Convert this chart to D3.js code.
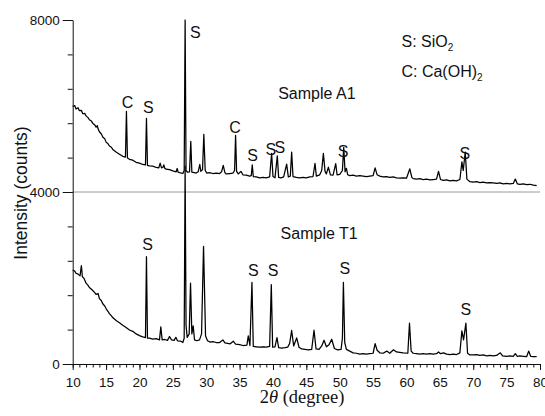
<!DOCTYPE html>
<html>
<head>
<meta charset="utf-8">
<script src="https://cdn.jsdelivr.net/npm/d3@7"></script>
<style>
  html, body { margin: 0; padding: 0; background: #fff; }
  svg { display: block; }
</style>
</head>
<body>
<svg id="chart" width="545" height="416"></svg>
<script>
// ---------- DATA (2θ in degrees, intensity in counts) ----------
const xTicks = [10, 15, 20, 25, 30, 35, 40, 45, 50, 55, 60, 65, 70, 75, 80];
const yTicks = [0, 4000, 8000];
const separatorLevel = 4000;

const sampleA1 = [
  [10,5990],[10.3,6010],[10.5,5930],[10.8,5960],[11,5890],[11.3,5900],[11.5,5820],[11.8,5830],
  [12,5770],[12.3,5730],[12.5,5680],[12.8,5650],[13,5600],[13.3,5560],[13.5,5510],[13.7,5540],[13.8,5470],
  [14,5400],[14.3,5350],[14.5,5280],[14.8,5240],[15,5160],[15.3,5120],[15.5,5070],[15.8,5040],
  [16,4990],[16.5,4930],[17,4880],[17.5,4830],[17.9,4810],[18.05,5877],[18.2,4790],[18.5,4760],
  [19,4740],[19.5,4690],[20,4670],[20.5,4640],[20.9,4630],[21.05,5713],[21.2,4620],[21.5,4610],
  [22,4600],[22.5,4570],[22.9,4560],[23.1,4670],[23.3,4560],[23.5,4570],[23.65,4630],[23.8,4550],
  [24,4530],[24.5,4520],[25,4490],[25.5,4470],[25.65,4547],[25.8,4460],[26,4450],[26.5,4430],
  [26.7,4500],[26.84,8000],[26.98,4500],[27.2,4460],[27.5,4470],[27.69,5177],[27.85,4460],
  [28.2,4450],[28.5,4440],[28.8,4470],[29.04,4640],[29.2,4480],[29.45,4520],[29.64,5340],[29.85,4500],
  [30.1,4440],[30.5,4450],[31,4430],[31.5,4440],[32,4430],[32.3,4470],[32.55,4617],[32.8,4450],
  [33,4420],[33.5,4430],[34,4440],[34.25,4500],[34.4,5317],[34.55,4480],[34.8,4420],[35.2,4480],
  [35.5,4400],[36,4390],[36.5,4370],[36.75,4380],[36.9,4630],[37.05,4360],[37.5,4350],[38,4330],
  [38.5,4340],[39,4330],[39.5,4350],[39.8,4900],[40,4360],[40.3,4330],[40.65,4840],[40.85,4340],
  [41.2,4330],[41.6,4350],[42.05,4650],[42.3,4350],[42.6,4370],[42.8,4930],[43,4360],[43.5,4340],
  [44,4330],[44.5,4340],[45,4330],[45.5,4350],[46,4360],[46.3,4664],[46.5,4370],[47,4400],
  [47.3,4500],[47.55,4897],[47.8,4480],[48,4420],[48.3,4580],[48.6,4400],[49,4390],[49.4,4660],
  [49.6,4400],[50,4410],[50.4,4500],[50.6,5037],[50.8,4470],[51,4550],[51.2,4400],[51.5,4380],
  [52,4390],[52.5,4370],[53,4380],[53.5,4370],[54,4360],[54.5,4370],[55,4380],[55.3,4560],
  [55.6,4400],[56,4370],[56.5,4350],[57,4360],[57.5,4340],[58,4350],[58.5,4330],[59,4320],
  [59.5,4330],[60,4320],[60.5,4540],[60.8,4340],[61,4310],[61.5,4300],[62,4310],[62.5,4290],
  [63,4300],[63.5,4280],[64,4290],[64.5,4300],[64.8,4480],[65.1,4290],[65.5,4270],[66,4280],
  [66.5,4260],[67,4270],[67.5,4260],[68,4290],[68.3,4700],[68.5,4500],[68.8,4930],[69.05,4300],
  [69.5,4240],[70,4230],[70.5,4240],[71,4220],[71.5,4230],[72,4210],[72.5,4220],[73,4210],
  [73.5,4200],[74,4210],[74.5,4190],[75,4200],[75.5,4190],[76,4200],[76.3,4300],[76.6,4190],
  [77,4180],[77.5,4190],[78,4170],[78.5,4180],[79,4160],[79.5,4150]
];

const sampleT1 = [
  [10,2185],[10.3,2160],[10.5,2110],[10.8,2090],[11.1,2050],[11.3,2290],[11.45,2030],[11.7,1990],
  [12,1880],[12.3,1830],[12.5,1780],[12.8,1740],[13,1710],[13.3,1660],[13.5,1620],[13.8,1640],
  [14,1520],[14.3,1470],[14.5,1400],[14.8,1350],[15,1290],[15.3,1220],[15.5,1170],[15.8,1120],
  [16,1080],[16.5,1010],[17,960],[17.5,900],[18,850],[18.5,790],[19,760],[19.5,700],[20,660],
  [20.5,630],[20.9,615],[21.05,2495],[21.2,600],[21.5,600],[22,580],[22.5,590],[23,560],[23.2,863],
  [23.4,560],[23.8,570],[24.2,550],[24.5,640],[24.8,560],[25.2,550],[25.45,620],[25.7,540],
  [26.2,530],[26.5,500],[26.7,600],[26.84,4600],[26.98,900],[27.15,620],[27.45,700],[27.65,1882],
  [27.85,700],[28.05,886],[28.25,560],[28.6,540],[29,560],[29.3,700],[29.6,2736],[29.9,650],
  [30.2,540],[30.6,510],[31,520],[31.5,500],[32,500],[32.5,560],[32.8,490],[33.2,480],[33.6,470],
  [34.05,530],[34.4,460],[35,450],[35.5,430],[36.1,440],[36.3,653],[36.55,430],[36.85,1900],
  [37.05,410],[37.5,400],[38,390],[38.5,400],[39,390],[39.5,410],[39.75,1846],[39.95,390],
  [40.3,400],[40.6,614],[40.85,380],[41.3,370],[41.8,380],[42.2,390],[42.5,480],[42.8,780],
  [43.1,420],[43.55,606],[43.9,390],[44.3,350],[44.8,340],[45.3,330],[45.8,340],[46.15,785],
  [46.45,350],[46.9,340],[47.3,420],[47.65,552],[48,400],[48.4,450],[48.8,576],[49.2,360],
  [49.7,330],[50.2,340],[50.4,600],[50.55,1896],[50.75,500],[51,340],[51.5,300],[52,260],
  [52.5,250],[53,230],[53.5,240],[54,230],[54.5,240],[55,250],[55.3,474],[55.6,320],[56,260],
  [56.5,250],[57.05,300],[57.5,250],[58.05,330],[58.5,280],[59,270],[59.5,260],[60.2,250],
  [60.45,949],[60.7,300],[61,250],[61.5,240],[62,230],[62.5,240],[63,230],[63.5,240],[64,230],
  [64.5,240],[64.8,280],[65.1,240],[65.55,260],[66,230],[66.5,220],[67,230],[67.5,220],[68,260],
  [68.3,770],[68.55,560],[68.9,949],[69.15,250],[69.5,210],[70,210],[70.5,220],[71,200],
  [71.5,210],[72,190],[72.5,200],[73,190],[73.5,200],[74.05,260],[74.4,190],[75,180],[75.5,190],
  [76,180],[76.3,240],[76.6,180],[77,190],[77.5,180],[78,170],[78.3,300],[78.6,180],[79,170],
  [79.5,171]
];

// Peak labels: text, 2θ of label centre, intensity at label baseline
const peakLabels = [
  ["C", 18.23, 5942], ["S", 21.32, 5837], ["C", 34.3, 5372], ["S", 36.95, 4721],
  ["S", 39.69, 4872], ["S", 41.03, 4907], ["S", 50.51, 4814], ["S", 68.73, 4767],
  ["S", 21.23, 2651], ["S", 37.04, 2047], ["S", 40.03, 2047], ["S", 50.76, 2093], ["S", 68.88, 1140]
];
const mainPeakLabel = ["S", 27.56, 7581];
const sampleNames = [["Sample A1", 40.78, 6163], ["Sample T1", 41.14, 2907]];
const legendItems = [["S: SiO", "2", 59.25, 7372], ["C: Ca(OH)", "2", 59.25, 6663]];

// ---------- CHART ----------
const svg = d3.select("#chart");
const x = d3.scaleLinear().domain([10, 80]).range([72.7, 540]);
const y = d3.scaleLinear().domain([0, 8000]).range([364, 20]);
const sans = "'Liberation Sans', Arial, Helvetica, sans-serif";

// separator line
svg.append("line")
  .attr("x1", x(10)).attr("x2", x(80))
  .attr("y1", y(separatorLevel)).attr("y2", y(separatorLevel))
  .attr("stroke", "#9a9a9a").attr("stroke-width", 1);

const line = d3.line().x(d => x(d[0])).y(d => y(d[1]));
[sampleA1, sampleT1].forEach(s => {
  svg.append("path").datum(s)
    .attr("d", line)
    .attr("fill", "none")
    .attr("stroke", "#000")
    .attr("stroke-width", 1.25)
    .attr("stroke-linejoin", "round");
});

// X axis
const gxMinor = svg.append("g").attr("transform", `translate(0,${y(0)})`)
  .call(d3.axisBottom(x).tickValues(d3.range(10, 81, 1)).tickSize(3.5).tickFormat(""));
gxMinor.select(".domain").remove();
const gx = svg.append("g").attr("transform", `translate(0,${y(0)})`)
  .call(d3.axisBottom(x).tickValues(xTicks).tickSize(6).tickSizeOuter(0).tickPadding(7).tickFormat(d3.format("d")));
gx.selectAll("text").attr("font-family", sans).attr("font-size", 13.5).attr("fill", "#111");

// Y axis
const gyMinor = svg.append("g").attr("transform", `translate(${x(10)},0)`)
  .call(d3.axisLeft(y).tickValues(d3.range(0, 8001, 800)).tickSize(5).tickFormat(""));
gyMinor.select(".domain").remove();
const gy = svg.append("g").attr("transform", `translate(${x(10)},0)`)
  .call(d3.axisLeft(y).tickValues(yTicks).tickSize(10).tickSizeOuter(0).tickPadding(3).tickFormat(d3.format("d")));
gy.selectAll("text").attr("font-family", sans).attr("font-size", 13.5).attr("fill", "#111");

svg.selectAll(".domain, .tick line").attr("stroke", "#111").attr("stroke-width", 1);

// Axis titles
svg.append("text")
  .attr("transform", `translate(27,${(y(0) + y(8000)) / 2 + 1}) rotate(-90)`)
  .attr("text-anchor", "middle")
  .attr("font-family", sans).attr("font-size", 17.5).attr("fill", "#111")
  .text("Intensity (counts)");

const xt = svg.append("text")
  .attr("x", 302).attr("y", 403)
  .attr("text-anchor", "middle")
  .attr("font-family", "'Liberation Serif', 'Times New Roman', serif")
  .attr("font-size", 18.5).attr("fill", "#111");
xt.append("tspan").text("2");
xt.append("tspan").attr("font-style", "italic").text("θ");
xt.append("tspan").text(" (degree)");

// Peak labels
svg.selectAll("text.peak").data(peakLabels).enter().append("text")
  .attr("class", "peak")
  .attr("x", d => x(d[1])).attr("y", d => y(d[2]))
  .attr("text-anchor", "middle")
  .attr("font-family", sans).attr("font-size", 16).attr("fill", "#111")
  .text(d => d[0]);
svg.append("text")
  .attr("x", x(mainPeakLabel[1])).attr("y", y(mainPeakLabel[2]))
  .attr("font-family", sans).attr("font-size", 16).attr("fill", "#111")
  .text(mainPeakLabel[0]);

svg.selectAll("text.sample").data(sampleNames).enter().append("text")
  .attr("class", "sample")
  .attr("x", d => x(d[1])).attr("y", d => y(d[2]))
  .attr("font-family", sans).attr("font-size", 16).attr("fill", "#111")
  .text(d => d[0]);

legendItems.forEach(d => {
  const t = svg.append("text")
    .attr("x", x(d[2])).attr("y", y(d[3]))
    .attr("font-family", sans).attr("font-size", 16).attr("fill", "#111");
  t.append("tspan").text(d[0]);
  t.append("tspan").attr("font-size", 10).attr("dy", 4).text(d[1]);
});
</script>
</body>
</html>
